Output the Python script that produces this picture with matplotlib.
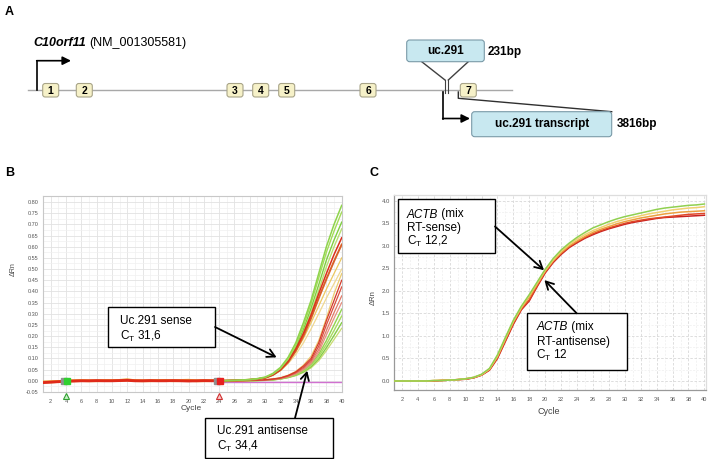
import matplotlib
matplotlib.use('Agg')
import matplotlib.pyplot as plt
from matplotlib.patches import FancyBboxPatch, Rectangle
from matplotlib.ticker import MultipleLocator

plt.rcParams['font.family'] = ['Liberation Sans', 'DejaVu Sans']
plt.rcParams['mathtext.fontset'] = 'custom'
plt.rcParams['mathtext.rm'] = 'Liberation Sans'
plt.rcParams['mathtext.it'] = 'Liberation Sans:italic'

# ---------------- data ----------------
# Panel A
GENE_NAME = 'C10orf11'
ACCESSION = '(NM_001305581)'
EXON_LABELS = ['1', '2', '3', '4', '5', '6', '7']
UC_LABEL = 'uc.291'
UC_SIZE = '231bp'
TRANSCRIPT_LABEL = 'uc.291 transcript'
TRANSCRIPT_SIZE = '3816bp'

# Panel B (uc.291 qPCR)
B_XTICKS = [2, 4, 6, 8, 10, 12, 14, 16, 18, 20, 22, 24, 26, 28, 30, 32, 34, 36, 38, 40]
B_YTICKS = [-0.05, 0.00, 0.05, 0.10, 0.15, 0.20, 0.25, 0.30, 0.35, 0.40,
            0.45, 0.50, 0.55, 0.60, 0.65, 0.70, 0.75, 0.80]
B_BASE_CYCLES = list(range(1, 25))
B_BASE_RED = [-0.008, -0.006, -0.004, -0.002, -0.001, 0.000, 0.000, 0.001, 0.000, 0.000, 0.001, 0.002,
              0.000, 0.000, 0.001, 0.000, 0.000, 0.001, 0.000, -0.001, 0.000, 0.001, 0.000, 0.000]
B_BASE_ORANGE = [-0.006, -0.005, -0.003, -0.001, 0.000, 0.001, 0.000, 0.000, 0.001, 0.001, 0.002, 0.004,
                 0.001, 0.000, 0.000, 0.001, 0.002, 0.000, 0.001, 0.002, 0.000, 0.000, 0.001, 0.001]
B_BASE_YELLOW = [-0.004, -0.003, -0.002, 0.000, 0.001, 0.002, 0.001, 0.000, 0.002, 0.001, 0.003, 0.005,
                 0.002, 0.001, 0.002, 0.003, 0.001, 0.002, 0.003, 0.004, 0.001, 0.002, 0.002, 0.002]
B_AMP_CYCLES = list(range(24, 41))
# sense group (cycles 24..40)
B_SENSE_G1 = [0.000, 0.001, 0.002, 0.004, 0.006, 0.010, 0.017, 0.033, 0.060, 0.105, 0.170, 0.260, 0.360, 0.480, 0.600, 0.700, 0.785]
B_SENSE_G2 = [0.000, 0.001, 0.002, 0.003, 0.005, 0.009, 0.015, 0.030, 0.055, 0.097, 0.160, 0.245, 0.345, 0.460, 0.575, 0.670, 0.755]
B_SENSE_G3 = [0.000, 0.001, 0.002, 0.003, 0.005, 0.008, 0.014, 0.028, 0.052, 0.092, 0.150, 0.230, 0.325, 0.430, 0.540, 0.630, 0.710]
B_SENSE_G4 = [-0.001, 0.000, 0.001, 0.002, 0.004, 0.007, 0.012, 0.025, 0.047, 0.085, 0.140, 0.215, 0.305, 0.405, 0.510, 0.600, 0.680]
B_SENSE_R1 = [0.000, 0.001, 0.002, 0.003, 0.005, 0.008, 0.014, 0.027, 0.050, 0.088, 0.142, 0.212, 0.295, 0.390, 0.480, 0.565, 0.640]
B_SENSE_O1 = [0.001, 0.001, 0.002, 0.003, 0.005, 0.008, 0.013, 0.026, 0.048, 0.083, 0.134, 0.200, 0.280, 0.370, 0.455, 0.535, 0.610]
B_SENSE_Y1 = [0.001, 0.002, 0.003, 0.004, 0.006, 0.009, 0.015, 0.028, 0.050, 0.085, 0.130, 0.190, 0.260, 0.335, 0.410, 0.480, 0.550]
B_SENSE_Y2 = [0.001, 0.002, 0.003, 0.004, 0.006, 0.009, 0.014, 0.026, 0.046, 0.077, 0.118, 0.170, 0.232, 0.300, 0.370, 0.435, 0.500]
# antisense group (cycles 24..40)
B_ANTI_R1 = [-0.002, -0.001, 0.000, 0.001, 0.002, 0.003, 0.005, 0.008, 0.013, 0.024, 0.040, 0.066, 0.100, 0.170, 0.270, 0.360, 0.450]
B_ANTI_R2 = [-0.002, -0.001, 0.000, 0.001, 0.002, 0.003, 0.004, 0.007, 0.012, 0.022, 0.037, 0.060, 0.092, 0.155, 0.250, 0.335, 0.420]
B_ANTI_R3 = [-0.002, -0.001, -0.001, 0.000, 0.001, 0.002, 0.004, 0.006, 0.011, 0.020, 0.034, 0.055, 0.085, 0.140, 0.225, 0.305, 0.380]
B_ANTI_R4 = [-0.002, -0.002, -0.001, 0.000, 0.001, 0.002, 0.003, 0.006, 0.010, 0.018, 0.031, 0.050, 0.078, 0.128, 0.205, 0.280, 0.350]
B_ANTI_Y1 = [-0.001, 0.000, 0.001, 0.001, 0.002, 0.004, 0.006, 0.009, 0.014, 0.025, 0.042, 0.070, 0.110, 0.180, 0.280, 0.390, 0.480]
B_ANTI_G1 = [-0.003, -0.002, -0.001, 0.000, 0.001, 0.002, 0.003, 0.006, 0.010, 0.018, 0.030, 0.048, 0.075, 0.118, 0.180, 0.250, 0.320]
B_ANTI_G2 = [-0.003, -0.002, -0.001, 0.000, 0.001, 0.002, 0.003, 0.005, 0.009, 0.016, 0.027, 0.044, 0.069, 0.108, 0.163, 0.225, 0.290]
B_ANTI_G3 = [-0.003, -0.003, -0.002, -0.001, 0.000, 0.001, 0.002, 0.004, 0.008, 0.015, 0.025, 0.040, 0.063, 0.098, 0.148, 0.203, 0.260]
B_ANTI_YG = [-0.002, -0.002, -0.001, 0.000, 0.000, 0.001, 0.002, 0.004, 0.008, 0.014, 0.023, 0.037, 0.058, 0.090, 0.135, 0.185, 0.235]
B_NTC_CYCLES = [24, 40]
B_NTC = [-0.004, -0.004]
B_MARK_CYCLES = [4, 24]

# Panel C (ACTB qPCR)
C_XTICKS = [2, 4, 6, 8, 10, 12, 14, 16, 18, 20, 22, 24, 26, 28, 30, 32, 34, 36, 38, 40]
C_YTICKS = [0.0, 0.5, 1.0, 1.5, 2.0, 2.5, 3.0, 3.5, 4.0]
C_CYCLES = list(range(1, 41))
C_GREEN = [0.00, 0.00, 0.00, 0.00, 0.00, 0.01, 0.01, 0.02, 0.03, 0.05, 0.08, 0.15, 0.28, 0.58, 0.97, 1.35, 1.66, 1.92, 2.20, 2.48,
           2.72, 2.91, 3.06, 3.19, 3.30, 3.40, 3.47, 3.54, 3.60, 3.65, 3.69, 3.73, 3.77, 3.81, 3.84, 3.86, 3.88, 3.90, 3.91, 3.93]
C_YELLOW = [0.00, 0.00, 0.00, 0.00, 0.00, 0.01, 0.01, 0.02, 0.03, 0.05, 0.08, 0.14, 0.27, 0.56, 0.95, 1.33, 1.64, 1.90, 2.18, 2.46,
            2.69, 2.88, 3.03, 3.15, 3.25, 3.34, 3.41, 3.48, 3.54, 3.59, 3.63, 3.67, 3.71, 3.74, 3.77, 3.80, 3.82, 3.84, 3.85, 3.87]
C_ORANGE = [0.00, 0.00, 0.00, 0.00, 0.00, 0.01, 0.02, 0.02, 0.03, 0.05, 0.08, 0.14, 0.26, 0.54, 0.93, 1.31, 1.62, 1.86, 2.15, 2.44,
            2.67, 2.85, 3.00, 3.11, 3.21, 3.30, 3.37, 3.43, 3.49, 3.54, 3.58, 3.62, 3.65, 3.68, 3.71, 3.73, 3.75, 3.76, 3.77, 3.78]
C_RED = [0.00, 0.00, 0.00, 0.00, 0.00, 0.00, 0.01, 0.02, 0.03, 0.04, 0.07, 0.13, 0.25, 0.52, 0.90, 1.28, 1.60, 1.80, 2.12, 2.42,
         2.65, 2.83, 2.98, 3.09, 3.19, 3.27, 3.34, 3.40, 3.45, 3.50, 3.54, 3.57, 3.60, 3.62, 3.64, 3.66, 3.68, 3.70, 3.71, 3.72]
C_DARKRED = [0.00, 0.00, 0.00, 0.00, 0.00, 0.00, 0.01, 0.02, 0.03, 0.04, 0.07, 0.13, 0.24, 0.50, 0.88, 1.26, 1.58, 1.78, 2.10, 2.40,
             2.63, 2.81, 2.96, 3.07, 3.17, 3.25, 3.32, 3.38, 3.43, 3.48, 3.52, 3.55, 3.58, 3.61, 3.63, 3.64, 3.65, 3.66, 3.67, 3.68]

# annotation targets (cycle, dRn)
B_SENSE_TARGET = (31.5, 0.105)
B_ANTI_TARGET = (35.5, 0.045)
C_SENSE_TARGET = (19.85, 2.46)
C_ANTI_TARGET = (19.9, 2.24)

# ---------------- figure ----------------
W, H = 709, 459
fig = plt.figure(figsize=(W / 100, H / 100), dpi=100)
fig.patch.set_facecolor('white')


def add_axes_px(x0, y0, x1, y1):
    return fig.add_axes([x0 / W, 1 - y1 / H, (x1 - x0) / W, (y1 - y0) / H])


TICK_COLOR = '#555555'

# ---------- Panel B ----------
axB = add_axes_px(43, 196, 341.7, 392)
axB.set_xlim(1, 40)
axB.set_ylim(-0.05, 0.827)
axB.set_xticks(B_XTICKS)
axB.set_yticks(B_YTICKS)
axB.set_yticklabels(['%.2f' % v for v in B_YTICKS])
axB.xaxis.set_minor_locator(MultipleLocator(1))
axB.yaxis.set_minor_locator(MultipleLocator(0.025))
axB.grid(which='major', color='#e2e2e2', lw=0.6)
axB.grid(which='minor', color='#f0f0f0', lw=0.5)
axB.set_axisbelow(True)
axB.tick_params(which='both', length=0, labelsize=4, colors=TICK_COLOR, pad=3)
axB.tick_params(axis='x', pad=5)
for s in axB.spines.values():
    s.set_color('#c8c8c8')
    s.set_linewidth(0.8)

axB.plot(B_NTC_CYCLES, B_NTC, color='#d070d0', lw=1.0, zorder=2)
axB.plot(B_BASE_CYCLES, B_BASE_YELLOW, color='#f0c850', lw=1.6, zorder=3)
axB.plot(B_BASE_CYCLES, B_BASE_ORANGE, color='#e8802a', lw=2.0, zorder=3)
axB.plot(B_BASE_CYCLES, B_BASE_RED, color='#e02a1a', lw=2.0, zorder=3)

b_series = [
    (B_SENSE_Y2, '#f0d890', 0.9), (B_SENSE_Y1, '#ecc860', 0.9),
    (B_ANTI_YG, '#c8dc70', 0.9), (B_ANTI_Y1, '#eccc70', 0.9),
    (B_ANTI_G3, '#86cc48', 1.0), (B_ANTI_G2, '#a8dc60', 1.0), (B_ANTI_G1, '#92d450', 1.0),
    (B_ANTI_R4, '#e89080', 0.9), (B_ANTI_R3, '#e27a68', 0.9), (B_ANTI_R2, '#dc5040', 0.9),
    (B_ANTI_R1, '#d43a2a', 0.9),
    (B_SENSE_G4, '#b8e070', 1.0), (B_SENSE_G3, '#7fcf3f', 1.0),
    (B_SENSE_O1, '#d86028', 1.4), (B_SENSE_R1, '#d9301c', 1.1),
    (B_SENSE_G2, '#a4dc58', 1.0), (B_SENSE_G1, '#8ed44c', 1.1),
]
for vals, col, lw in b_series:
    axB.plot(B_AMP_CYCLES, vals, color=col, lw=lw, zorder=4)

# run markers
axB.plot([B_MARK_CYCLES[0] - 0.25], [-0.002], marker='s', ms=4.5, color='#909090', zorder=6, clip_on=False)
axB.plot([B_MARK_CYCLES[0] + 0.1], [-0.002], marker='s', ms=4.5, color='#30d030', zorder=6, clip_on=False)
axB.plot([B_MARK_CYCLES[1] - 0.25], [-0.002], marker='s', ms=4.5, color='#909090', zorder=6, clip_on=False)
axB.plot([B_MARK_CYCLES[1] + 0.1], [-0.002], marker='s', ms=4.5, color='#e82020', zorder=6, clip_on=False)
trB = axB.get_xaxis_transform()
axB.plot([B_MARK_CYCLES[0]], [-0.02], marker='^', ms=4, mfc='#c8f0c8', mec='#30a030', mew=0.8,
         transform=trB, clip_on=False, zorder=6)
axB.plot([B_MARK_CYCLES[1]], [-0.02], marker='^', ms=4, mfc='#f8c8c8', mec='#d03030', mew=0.8,
         transform=trB, clip_on=False, zorder=6)

# ---------- Panel C ----------
axC = add_axes_px(394, 195, 706, 390)
axC.set_xlim(1, 40.2)
axC.set_ylim(-0.2, 4.13)
axC.set_xticks(C_XTICKS)
axC.set_yticks(C_YTICKS)
axC.set_yticklabels(['%.1f' % v for v in C_YTICKS])
axC.xaxis.set_minor_locator(MultipleLocator(1))
axC.yaxis.set_minor_locator(MultipleLocator(0.25))
axC.grid(which='major', color='#d8d8d8', lw=0.6, ls=(0, (3, 2)))
axC.grid(which='minor', color='#eeeeee', lw=0.5, ls=(0, (3, 2)))
axC.set_axisbelow(True)
axC.tick_params(which='both', length=0, labelsize=4.3, colors=TICK_COLOR, pad=3)
axC.tick_params(axis='x', pad=5, labelsize=4)
for name, s in axC.spines.items():
    s.set_color('#999999' if name in ('left', 'bottom') else '#dddddd')
    s.set_linewidth(0.9)

for vals, col in [(C_DARKRED, '#c82020'), (C_RED, '#e04828'), (C_ORANGE, '#eca040'),
                  (C_YELLOW, '#f0d070'), (C_GREEN, '#90d050')]:
    axC.plot(C_CYCLES, vals, color=col, lw=1.1, zorder=3)

# ---------- overlay (panel A, labels, annotations) ----------
ov = fig.add_axes([0, 0, 1, 1], zorder=10)
ov.set_xlim(0, W)
ov.set_ylim(H, 0)
ov.axis('off')
ov.patch.set_alpha(0)
fig.canvas.draw()
renderer = fig.canvas.get_renderer()


def text_after(t, gap=0.0):
    """x (overlay data == pixels) just after text t."""
    bb = t.get_window_extent(renderer=renderer)
    return bb.x1 + gap


# panel letters
for lab, x, y in [('A', 5, 12), ('B', 5, 173), ('C', 369, 173)]:
    ov.text(x, y, lab, fontsize=9, fontweight='bold', va='center', ha='left')

# gene title
t1 = ov.text(33, 43, GENE_NAME, fontsize=9, fontweight='bold', style='italic', va='center', ha='left')
ov.text(text_after(t1, 3), 43, ACCESSION, fontsize=9, va='center', ha='left')

# gene line
ov.plot([28, 512], [90, 90], color='#a8a8a8', lw=1.0, zorder=1)

# promoter arrow
ov.plot([37.3, 37.3], [90, 60.7], color='black', lw=1.2, zorder=2)
ov.annotate('', xy=(71, 60.7), xytext=(36.7, 60.7),
            arrowprops=dict(arrowstyle='-|>,head_length=0.5,head_width=0.25', color='black', lw=1.2,
                            shrinkA=0, shrinkB=0))

# exons
EXON_X = [50.7, 84.3, 235, 260.7, 286.7, 368, 468.3]
for lab, cx in zip(EXON_LABELS, EXON_X):
    bx = FancyBboxPatch((cx - 8, 83.5), 16, 13.5, boxstyle='round,pad=0,rounding_size=2.5',
                        fc='#f6f1c8', ec='#a8a488', lw=0.8, zorder=3)
    ov.add_patch(bx)
    ov.text(cx, 90.5, lab, fontsize=7.5, fontweight='bold', ha='center', va='center', zorder=4)

# uc.291 box and connectors
ov.add_patch(FancyBboxPatch((406.7, 40), 77.6, 21.7, boxstyle='round,pad=0,rounding_size=3',
                            fc='#c8e8f0', ec='#7a9aa8', lw=0.8, zorder=3))
ov.text(445.5, 51, UC_LABEL, fontsize=8.5, fontweight='bold', ha='center', va='center', zorder=4)
ov.text(487.5, 51.5, UC_SIZE, fontsize=8.5, fontweight='bold', ha='left', va='center')
ov.plot([421.7, 445], [61.7, 80], color='#404040', lw=1.0)
ov.plot([468.3, 448.3], [61.7, 80], color='#404040', lw=1.0)
ov.plot([445, 445], [80, 93], color='#404040', lw=0.8)
ov.plot([448.3, 448.3], [80, 93], color='#404040', lw=0.8)

# transcript arrow
ov.plot([443.3, 443.3], [92, 118.5], color='black', lw=1.2)
ov.annotate('', xy=(470, 118.5), xytext=(442.7, 118.5),
            arrowprops=dict(arrowstyle='-|>,head_length=0.5,head_width=0.25', color='black', lw=1.2,
                            shrinkA=0, shrinkB=0))
# exon 7 connector
ov.plot([458.3, 458.3, 611.7], [92, 98.3, 111.7], color='#303030', lw=1.0)

ov.add_patch(FancyBboxPatch((471.7, 111.7), 140, 25, boxstyle='round,pad=0,rounding_size=3',
                            fc='#c8e8f0', ec='#7a9aa8', lw=0.8, zorder=3))
ov.text(541.7, 124.5, TRANSCRIPT_LABEL, fontsize=8.5, fontweight='bold', ha='center', va='center', zorder=4)
ov.text(617, 124, TRANSCRIPT_SIZE, fontsize=8.5, fontweight='bold', ha='left', va='center')

# axis labels
ov.text(191.5, 408, 'Cycle', fontsize=6, color='#444444', ha='center', va='center')
ov.text(13, 269, 'ΔRn', fontsize=5, color='#444444', ha='center', va='center', rotation=90)
ov.text(549, 412, 'Cycle', fontsize=6.5, color='#444444', ha='center', va='center')
ov.text(373, 298, 'ΔRn', fontsize=5.5, color='#444444', ha='center', va='center', rotation=90)

# annotation boxes
AR = dict(arrowstyle='->,head_length=0.55,head_width=0.3', color='black', lw=1.3, shrinkA=0, shrinkB=0)
BOXKW = dict(fc='white', ec='black', lw=1.0)
TXT = dict(fontsize=8.5, ha='left', va='center')


def box(x0, y0, x1, y1):
    ov.add_patch(Rectangle((x0, y0), x1 - x0, y1 - y0, zorder=5, **BOXKW))


# B sense
box(108, 307, 215, 347)
ov.text(120, 321.5, 'Uc.291 sense', zorder=6, **TXT)
ov.text(120, 336, r'C$_\mathregular{T}$ 31,6', zorder=6, **TXT)
ov.annotate('', xy=B_SENSE_TARGET, xycoords=axB.transData, xytext=(215, 327), textcoords='data',
            arrowprops=AR, zorder=6)
# B antisense
box(205, 418, 333, 458)
ov.text(217, 431.5, 'Uc.291 antisense', zorder=6, **TXT)
ov.text(217, 446, r'C$_\mathregular{T}$ 34,4', zorder=6, **TXT)
ov.annotate('', xy=B_ANTI_TARGET, xycoords=axB.transData, xytext=(295, 418), textcoords='data',
            arrowprops=AR, zorder=6)

# C sense
box(398, 199, 495, 253)
ta = ov.text(407, 214.5, 'ACTB', style='italic', zorder=6, **TXT)
ov.text(text_after(ta), 214.5, ' (mix', zorder=6, **TXT)
ov.text(407, 227.5, 'RT-sense)', zorder=6, **TXT)
ov.text(407, 241.5, r'C$_\mathregular{T}$ 12,2', zorder=6, **TXT)
ov.annotate('', xy=C_SENSE_TARGET, xycoords=axC.transData, xytext=(495, 226.5), textcoords='data',
            arrowprops=AR, zorder=6)
# C antisense
box(526.7, 313.3, 627.3, 370)
tb = ov.text(536.5, 327, 'ACTB', style='italic', zorder=6, **TXT)
ov.text(text_after(tb), 327, ' (mix', zorder=6, **TXT)
ov.text(536.5, 341.5, 'RT-antisense)', zorder=6, **TXT)
ov.text(536.5, 355.5, r'C$_\mathregular{T}$ 12', zorder=6, **TXT)
ov.annotate('', xy=C_ANTI_TARGET, xycoords=axC.transData, xytext=(576.7, 313.3), textcoords='data',
            arrowprops=AR, zorder=6)

fig.savefig('out.png', dpi=100, facecolor='white')
